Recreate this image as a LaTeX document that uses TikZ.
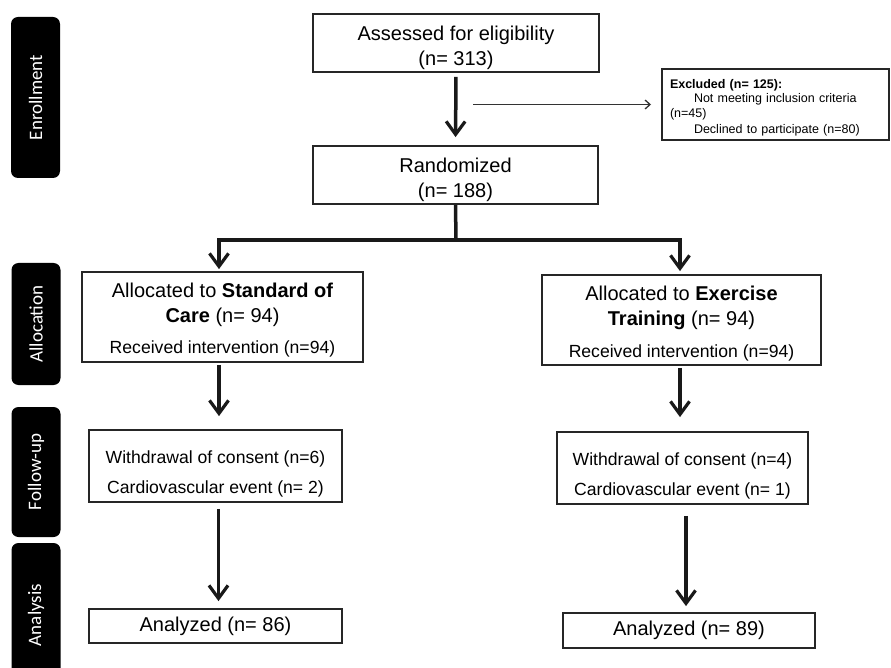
\documentclass[tikz,border=0pt]{standalone}
\usepackage{fontspec}
\setmainfont{Liberation Sans}
\newfontfamily\sidefont{Carlito}
\usetikzlibrary{arrows.meta,calc}
\newcommand\tstrut[1]{\rule{0pt}{#1}}

\begin{document}
\begin{tikzpicture}[x=1pt,y=-1pt,
  box/.style={draw=black!85, line width=1.8pt, align=center, inner sep=0pt, font=\fontsize{20}{25}\selectfont},
  sidebox/.style={fill=black, rounded corners=7pt, rotate=90, text=white, font=\sidefont\fontsize{19}{22}\selectfont, minimum height=49pt, inner sep=0pt},
  conn/.style={line width=3.5pt, black!90},
  arr/.style={conn, -{Straight Barb[length=13pt,width=19pt,line width=3.2pt]}},
  thinarr/.style={line width=1.3pt, black!80, -{Straight Barb[length=5pt,width=9pt,line width=1.3pt]}},
]
\useasboundingbox (0,0) rectangle (891,668);
\clip (0,0) rectangle (891,668);

% side labels
\node[sidebox, minimum width=161pt] (enr) at (35.5,97.5) {Enrollment};
\node[sidebox, minimum width=122pt] (alloc) at (36,324) {Allocation};
\node[sidebox, minimum width=130pt] (fu) at (36,472) {Follow-up};
\node[sidebox, minimum width=144pt] (ana) at (36,615) {Analysis};

% boxes
\node[box, minimum width=286pt, minimum height=58pt] (assess) at (456,43) {\tstrut{23.5pt}Assessed for eligibility\\(n= 313)};
\node[box, minimum width=285pt, minimum height=58pt] (rand) at (455.5,175) {\tstrut{24.5pt}Randomized\\(n= 188)};
\node[box, line width=2pt, minimum width=227pt, minimum height=71pt, text width=211pt, align=left, inner xsep=8pt, font=\fontsize{12.5}{14.5}\selectfont] (excl) at (775.5,104.5)
  {\tstrut{16pt}\textbf{Excluded (n= 125):}\\\hspace*{24pt}Not meeting inclusion criteria\\(n=45)\\[2pt]\hspace*{24pt}Declined to participate (n=80)};

\node[box, minimum width=281pt, minimum height=90pt] (std) at (222.5,317)
  {\tstrut{20pt}Allocated to \textbf{Standard of}\\\textbf{Care} (n= 94)\\[6pt]{\fontsize{17.6}{20}\selectfont Received intervention (n=94)}};
\node[box, minimum width=279pt, minimum height=90pt] (exe) at (681.5,320)
  {\tstrut{21pt}Allocated to \textbf{Exercise}\\\textbf{Training} (n= 94)\\[7pt]{\fontsize{17.6}{20}\selectfont Received intervention (n=94)}};

\node[box, minimum width=253pt, minimum height=72pt, font=\fontsize{17.6}{30}\selectfont] (wdl) at (215.5,466)
  {\tstrut{28pt}Withdrawal of consent (n=6)\\Cardiovascular event (n= 2)};
\node[box, minimum width=251pt, minimum height=72pt, font=\fontsize{17.6}{30}\selectfont] (wdr) at (682.5,468)
  {\tstrut{28pt}Withdrawal of consent (n=4)\\Cardiovascular event (n= 1)};

\node[box, minimum width=253pt, minimum height=34pt] (anl) at (215.5,626) {Analyzed (n= 86)};
\node[box, minimum width=252pt, minimum height=35pt] (anr) at (689,630.5) {Analyzed (n= 89)};

% connectors
\coordinate (exsrc) at (473,104.5);
\coordinate (split) at (456,240);
\coordinate (cl) at (219,240);
\coordinate (cr) at (680,240);
\coordinate (cl2) at (218.5,0);
\coordinate (cr2) at (686,0);

\draw[arr, shorten <=4pt, shorten >=8pt] (assess.south) -- (rand.north);
\draw[thinarr, shorten >=10pt] (exsrc) -- (excl.west);
\draw[conn] (rand.south) -- (split);
\draw[arr, shorten >=2pt] (split) -| (cl |- std.north);
\draw[arr, shorten >=3pt] (split) -| (cr |- exe.north);
\draw[arr, shorten <=2pt, shorten >=13pt] (cl |- std.south) -- (cl |- wdl.north);
\draw[arr, shorten <=2pt, shorten >=14pt] (cr |- exe.south) -- (cr |- wdr.north);
\draw[arr, shorten <=6pt, shorten >=7pt] (cl2 |- wdl.south) -- (cl2 |- anl.north);
\draw[arr, shorten <=11pt, shorten >=6pt] (cr2 |- wdr.south) -- (cr2 |- anr.north);
\end{tikzpicture}
\end{document}
